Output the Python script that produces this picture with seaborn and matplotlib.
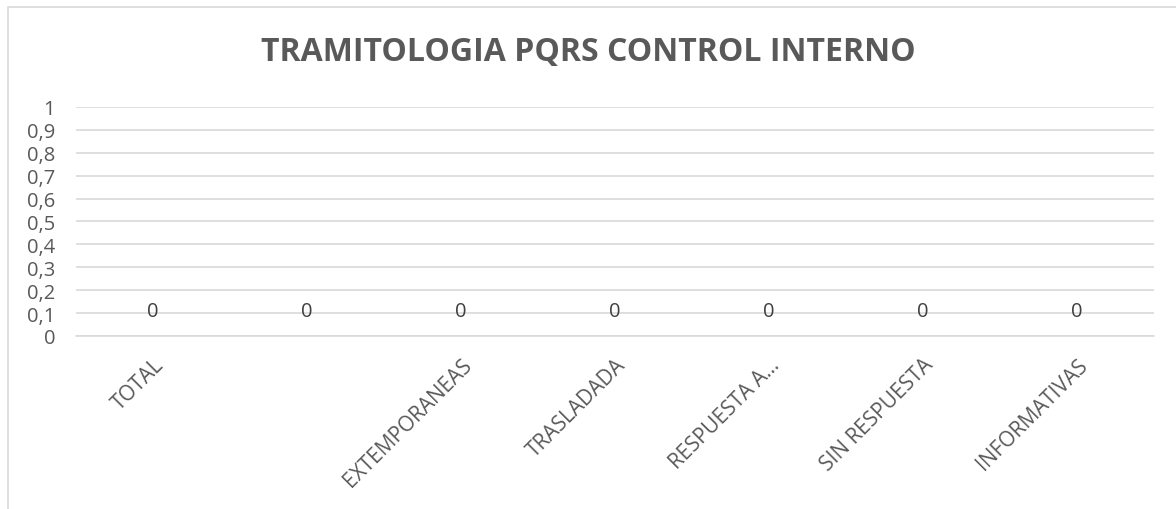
import matplotlib
matplotlib.use("Agg")
import matplotlib.pyplot as plt
import seaborn as sns
import pandas as pd
from matplotlib.ticker import FuncFormatter, MultipleLocator
from matplotlib.patches import Rectangle

categories = ["TOTAL", " ", "EXTEMPORANEAS", "TRASLADADA", "RESPUESTA A...", "SIN RESPUESTA", "INFORMATIVAS"]
values = [0, 0, 0, 0, 0, 0, 0]
title = "TRAMITOLOGIA PQRS CONTROL INTERNO"

sns.set_theme(style="white")
plt.rcParams['font.family'] = ['Open Sans', 'DejaVu Sans']

W, H = 1176, 510
fig = plt.figure(figsize=(W / 100, H / 100), dpi=100)
fig.patch.set_facecolor("white")
ax = fig.add_axes([76 / W, 1 - 337 / H, (1154 - 76) / W, (337 - 108) / H])

df = pd.DataFrame({"cat": categories, "val": values})
sns.barplot(data=df, x="cat", y="val", ax=ax, color="#4472C4", width=0.6, linewidth=0)

ax.set_ylim(0, 1)
ax.set_xlim(-0.5, len(categories) - 0.5)
ax.yaxis.set_major_locator(MultipleLocator(0.1))
ax.yaxis.set_major_formatter(FuncFormatter(lambda v, p: f"{round(v, 1):g}".replace(".", ",")))
ax.grid(axis="y", color="#D9D9D9", linewidth=1.2)
ax.axhline(0, color="#D9D9D9", linewidth=1.2, clip_on=False, zorder=3)
ax.set_axisbelow(True)
for s in ax.spines.values():
    s.set_visible(False)
ax.tick_params(axis="both", length=0, colors="#595959", labelsize=14.5)
ax.tick_params(axis="y", pad=15)
ax.tick_params(axis="x", labelsize=15, pad=13)
ax.set_xlabel("")
ax.set_ylabel("")

for lbl in ax.get_xticklabels():
    lbl.set_rotation(45)
    lbl.set_ha("right")
    lbl.set_rotation_mode("anchor")

for c in ax.containers:
    ax.bar_label(c, labels=[f"{v:g}" for v in values], padding=11, fontsize=14.5, color="#404040")

fig.text(0.5, 1 - 52 / H, title, ha="center", va="center", fontsize=23,
         fontweight="bold", color="#595959")

fig.patches.append(Rectangle((8 / W, -0.1), 1.2, 1 - 8 / H + 0.1, transform=fig.transFigure,
                             fill=False, edgecolor="#D9D9D9", linewidth=1.2))

fig.savefig("out.png", dpi=100, facecolor="white")
